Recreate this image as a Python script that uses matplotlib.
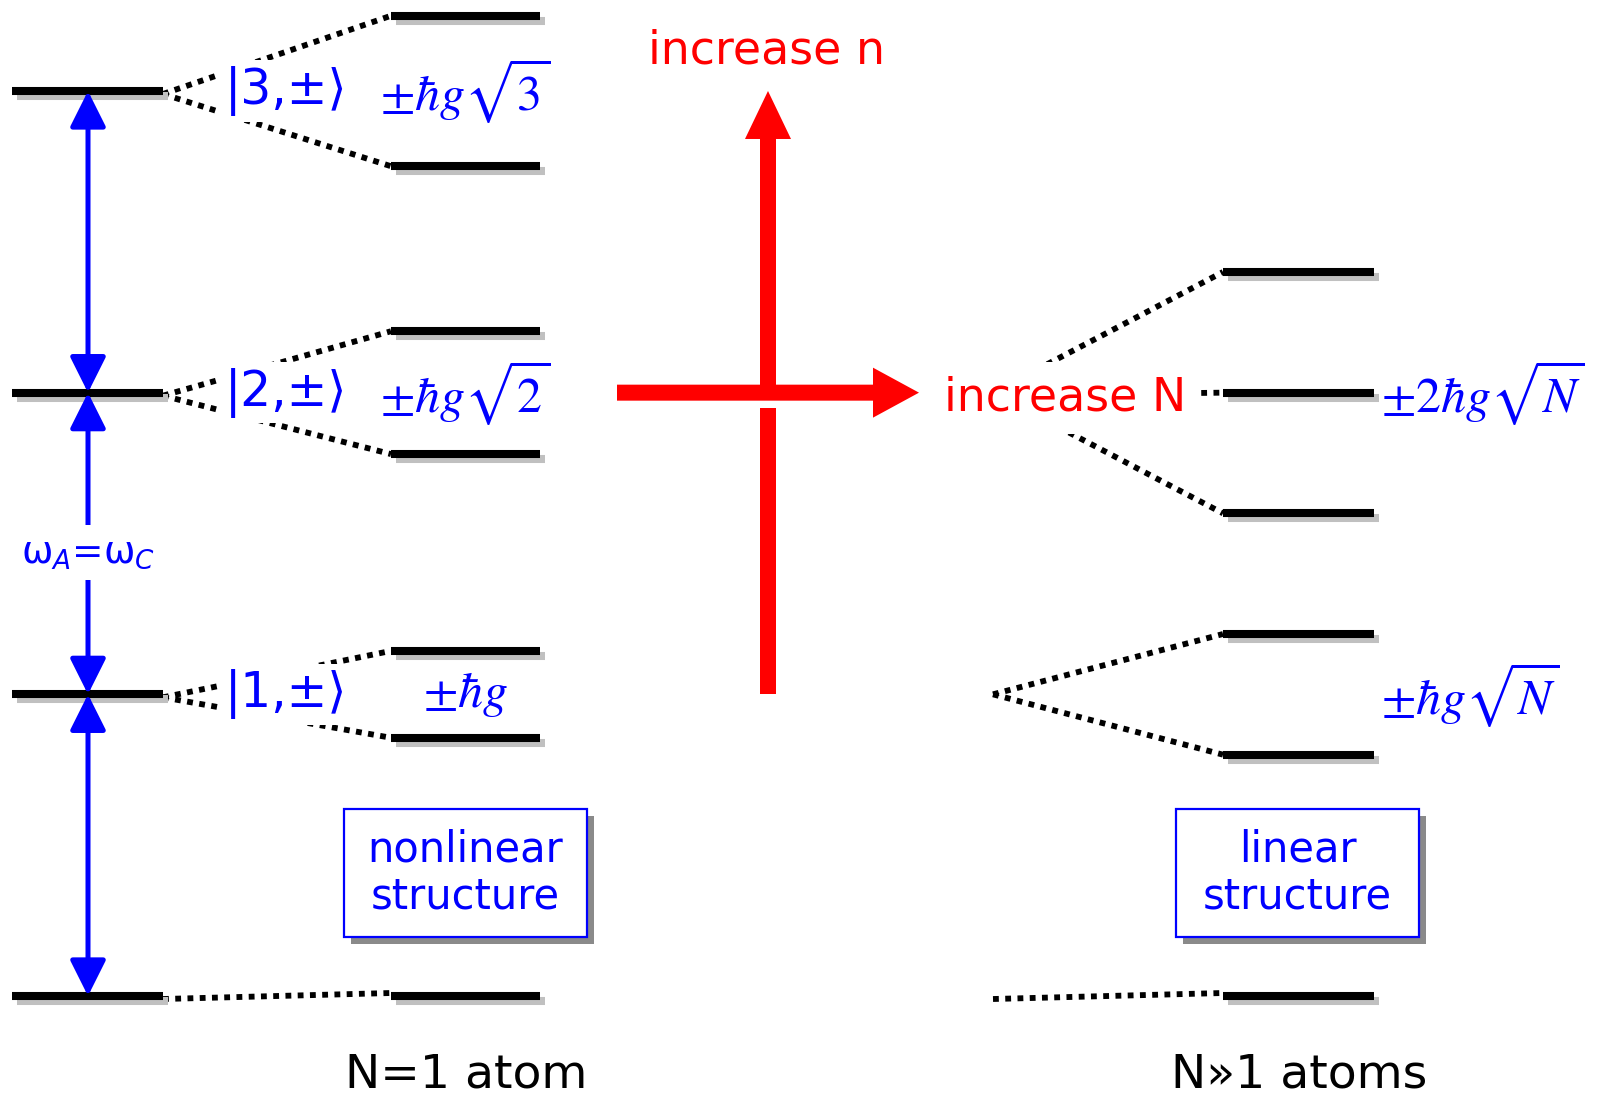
import numpy as np
import matplotlib
matplotlib.use("Agg")
import matplotlib.pyplot as plt
import matplotlib.patheffects as pe
from matplotlib.patches import FancyArrowPatch, Rectangle

# Jaynes-Cummings ladder, energies in units of hbar*omega (omega_A = omega_C)
photon_numbers = [0, 1, 2, 3]

# one atom: doublets split by +-hbar g sqrt(n)
single_split = [0.0, 1.0, np.sqrt(2), np.sqrt(3)]
single_labels = ["", r"$\pm\hbar g$", r"$\pm\hbar g\sqrt{2}$", r"$\pm\hbar g\sqrt{3}$"]
ket_labels = ["", "|1,±⟩", "|2,±⟩", "|3,±⟩"]
g_single = 0.144          # hbar g / hbar omega

# N >> 1 atoms: level offsets in units of hbar g sqrt(N)
many_offsets = [[0.0], [-1.0, 1.0], [-2.0, 0.0, 2.0]]
many_labels = ["", r"$\pm\hbar g\sqrt{N}$", r"$\pm2\hbar g\sqrt{N}$"]
g_many = 0.2              # hbar g sqrt(N) / hbar omega

BLUE = "#0000ff"
RED = "#ff0000"

plt.rcParams["font.family"] = ["DejaVu Sans"]

fig = plt.figure(figsize=(16.02, 10.99), dpi=100)
ax = fig.add_axes([0, 0, 1, 1])
ax.set_xlim(0, 1602)
ax.set_ylim(-0.3414, 3.3016)
ax.axis("off")
PX = 1099 / (3.3016 + 0.3414)   # pixels per unit of energy

shadow = [pe.SimpleLineShadow(offset=(3.6, -3.6), shadow_color="#c0c0c0", alpha=1.0), pe.Normal()]


def level(x0, x1, e):
    ax.plot([x0, x1], [e, e], color="black", lw=5.8, solid_capstyle="butt",
            path_effects=shadow, zorder=3)


def dots(x0, e0, x1, e1):
    ax.plot([x0, x1], [e0, e1], color="black", lw=4.2, linestyle=(0, (1, 1.1)),
            dash_capstyle="butt", zorder=2)


# bare levels and the single-atom doublets
for n, s in zip(photon_numbers, single_split):
    level(12, 163, n)
    if s == 0:
        level(391, 540, n)
        dots(163, n - 3 / PX, 391, n + 3 / PX)
        continue
    for sign in (1, -1):
        e = n + sign * g_single * s
        level(391, 540, e)
        dots(163, n - 3 / PX, 391, e)
    ax.text(225, n, ket_labels[n], color=BLUE, fontsize=35, ha="left", va="center",
            zorder=5, bbox=dict(boxstyle="square,pad=0.12", fc="white", ec="none"))
    ax.text(465, n, single_labels[n], color=BLUE, fontsize=36, ha="center", va="center",
            math_fontfamily="stix", zorder=5)

# many-atom levels
for n, offs in zip(photon_numbers, many_offsets):
    for o in offs:
        e = n + o * g_many
        level(1223, 1374, e)
        dots(993, n - 3 / PX if o == 0 else n, 1223, e + (3 / PX if o == 0 and n == 0 else 0))
    if many_labels[n]:
        ax.text(1381, n, many_labels[n], color=BLUE, fontsize=36, ha="left", va="center",
                math_fontfamily="stix", zorder=5)

# resonant transitions
arrow_kw = dict(arrowstyle="<|-|>,head_length=1.1,head_width=0.55", mutation_scale=20,
                color=BLUE, lw=3.6, shrinkA=0, shrinkB=0, zorder=4)
for e0, e1 in zip(photon_numbers[:-1], photon_numbers[1:]):
    ax.add_patch(FancyArrowPatch((88, e0), (88, e1), **arrow_kw))
ax.text(88, 1.47, "ω$_A$=ω$_C$", color=BLUE, fontsize=27, ha="center", va="center",
        math_fontfamily="dejavusans", zorder=5,
        bbox=dict(boxstyle="square,pad=0.25", fc="white", ec="none"))

# red arrows: increase n (vertical) and increase N (horizontal)
shaft = 16
ax.plot([768, 768], [1, 2 - (shaft / 2 + 7) / PX], color=RED, lw=shaft * 0.72,
        solid_capstyle="butt", zorder=2)
ax.arrow(768, 2, 0, 1, width=shaft, head_width=46, head_length=48 / PX,
         length_includes_head=True, color=RED, lw=0, zorder=2)
ax.arrow(617, 2, 302, 0, width=shaft / PX, head_width=50 / PX, head_length=46,
         length_includes_head=True, color=RED, lw=0, zorder=3)
ax.text(766, 3.133, "increase n", color=RED, fontsize=33, ha="center", va="center")
ax.text(1065, 1.982, "increase N", color=RED, fontsize=33, ha="center", va="center",
        zorder=5, bbox=dict(boxstyle="square,pad=0.3", fc="white", ec="none"))

# structure boxes with drop shadow
for xc, label in [(465.5, "nonlinear\nstructure"), (1297.5, "linear\nstructure")]:
    w, h, yc = 243, 128 / PX, 0.408
    ax.add_patch(Rectangle((xc - w / 2 + 7, yc - h / 2 - 7 / PX), w, h,
                           fc="#8a8a8a", ec="none", zorder=4))
    ax.add_patch(Rectangle((xc - w / 2, yc - h / 2), w, h,
                           fc="white", ec=BLUE, lw=1.6, zorder=5))
    ax.text(xc, yc, label, color=BLUE, fontsize=30, ha="center", va="center",
            linespacing=1.15, zorder=6)

ax.text(466, -0.262, "N=1 atom", color="black", fontsize=34, ha="center", va="center")
ax.text(1299, -0.262, "N»1 atoms", color="black", fontsize=34, ha="center", va="center")

fig.savefig("out.png", dpi=100)
